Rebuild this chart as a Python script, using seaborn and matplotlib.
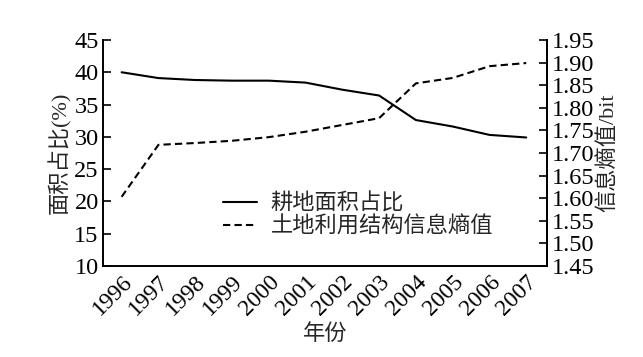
import matplotlib
matplotlib.use("Agg")
import matplotlib.pyplot as plt
import seaborn as sns
import pandas as pd

years = [1996, 1997, 1998, 1999, 2000, 2001, 2002, 2003, 2004, 2005, 2006, 2007]
cultivated_share = [40.0, 39.1, 38.8, 38.7, 38.7, 38.4, 37.3, 36.4, 32.6, 31.6, 30.3, 29.9]
entropy = [1.603, 1.718, 1.722, 1.727, 1.735, 1.747, 1.762, 1.777, 1.854, 1.866, 1.892, 1.899]
left_ticks = [10, 15, 20, 25, 30, 35, 40, 45]
right_ticks = [1.45, 1.50, 1.55, 1.60, 1.65, 1.70, 1.75, 1.80, 1.85, 1.90, 1.95]

sns.set_style("white")
plt.rcParams['font.family'] = ['Liberation Serif', 'Noto Sans CJK SC']
plt.rcParams['font.size'] = 17

df = pd.DataFrame({"year": years, "share": cultivated_share, "entropy": entropy})

fig = plt.figure(figsize=(6.43, 3.57), dpi=100)
ax = fig.add_axes([0.160, 0.255, 0.691, 0.633])
ax2 = ax.twinx()

sns.lineplot(data=df, x="year", y="share", ax=ax, color="black", lw=1.5,
             label="耕地面积占比", legend=False)
sns.lineplot(data=df, x="year", y="entropy", ax=ax2, color="black", lw=1.5,
             label="土地利用结构信息熵值", legend=False)
ax2.lines[0].set_dashes((3.5, 2))

ax.set_xlim(1995.49, 2007.57)
ax.set_ylim(10, 45)
ax2.set_ylim(1.45, 1.95)
ax.set_xticks(years)
ax.set_xticklabels([str(y) for y in years], rotation=45, ha='right',
                   rotation_mode='anchor', fontsize=17)
ax.set_yticks(left_ticks)
ax.set_yticklabels([str(v) for v in left_ticks], fontsize=17.5)
ax2.set_yticks(right_ticks)
ax2.set_yticklabels([f"{v:.2f}" for v in right_ticks], fontsize=17.5)

for a in (ax, ax2):
    a.spines['top'].set_visible(False)
    for s in a.spines.values():
        s.set_linewidth(1.4)
        s.set_color('black')
    a.tick_params(direction='in', length=6, width=1.2, colors='black', pad=3)
ax2.spines['left'].set_visible(False)
ax2.spines['bottom'].set_visible(False)
ax.tick_params(axis='x', pad=4)

ax.set_xlabel("年份", fontsize=16, labelpad=3)
ax.set_ylabel("面积占比(%)", fontsize=16, labelpad=2)
ax2.set_ylabel("信息熵值/bit", fontsize=16, labelpad=2)

h1, l1 = ax.get_legend_handles_labels()
h2, l2 = ax2.get_legend_handles_labels()
ax.legend(h1 + h2, l1 + l2, loc='upper left', bbox_to_anchor=(0.25, 0.36),
          frameon=False, fontsize=16, handlelength=1.55, handletextpad=0.6,
          labelspacing=0.1, borderaxespad=0)

fig.savefig("out.png", dpi=100)
